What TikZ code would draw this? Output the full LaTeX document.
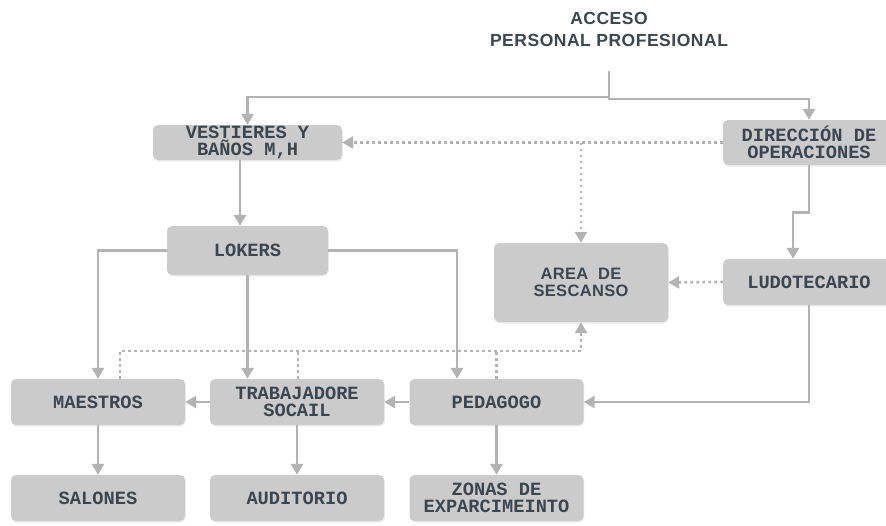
\documentclass[tikz,border=0pt]{standalone}
\usepackage{fontspec}
\setmonofont{Liberation Mono}
\newfontfamily\headfont[LetterSpace=3]{Liberation Sans}
\newfontfamily\areafont[LetterSpace=2]{Liberation Sans}
\usetikzlibrary{arrows.meta,shadows}

\definecolor{boxgray}{HTML}{CBCBCB}
\definecolor{linegray}{HTML}{B3B3B3}
\definecolor{textgray}{HTML}{3B4651}

\tikzset{
  box/.style={rectangle, rounded corners=5pt, fill=boxgray, text=textgray, align=center, inner sep=0pt,
    font=\ttfamily\bfseries\fontsize{18.7}{17}\selectfont,
    drop shadow={opacity=0.15, shadow xshift=0.8pt, shadow yshift=-1.5pt}},
  cell/.style={box, minimum width=174, minimum height=46},
  head/.style={text=textgray, align=center, font=\headfont\bfseries\fontsize{17.5}{22}\selectfont},
  flow/.style={draw=linegray, line width=2.8pt, -{Triangle[length=11pt,width=12pt]}},
  dotline/.style={draw=linegray, line width=2.6pt, dash pattern=on 2.4pt off 3.6pt},
  dots/.style={dotline, -{Triangle[length=11pt,width=12pt]}}
}

\begin{document}
\begin{tikzpicture}[x=1pt,y=-1pt]
        \useasboundingbox (0,0) rectangle (886,525);

        % title
        \node[head] (acceso) at (609,29) {ACCESO\\PERSONAL PROFESIONAL};
        \coordinate (acc) at (609,71);

        % upper boxes
        \node[box, minimum width=189, minimum height=35] (vest) at (247.5,142.5) {VESTIERES Y\\BAÑOS M,H};
        \node[box, minimum width=172, minimum height=45] (dir) at (809,142.5) {DIRECCIÓN DE\\OPERACIONES};
        \node[box, minimum width=161, minimum height=49] (lok) at (247.5,250.5) {LOKERS};
        \node[box, minimum width=174, minimum height=79, font=\areafont\bfseries\fontsize{16.5}{17}\selectfont] (area) at (581,282.5) {AREA\ \ DE\\SESCANSO};
        \node[box, minimum width=172, minimum height=46] (ludo) at (809,282) {LUDOTECARIO};

        % lower boxes
        \node[cell] (mae) at (98,402) {MAESTROS};
        \node[cell] (trab) at (297,402) {TRABAJADORE\\SOCAIL};
        \node[cell] (ped) at (496.5,402) {PEDAGOGO};
        \node[cell] (sal) at (98,498) {SALONES};
        \node[cell] (aud) at (297,498) {AUDITORIO};
        \node[cell] (zon) at (496.5,498) {ZONAS DE\\EXPARCIMEINTO};

        % solid lines
        \draw[flow] (acc) -- ++(0,26) -| (vest.north);
        \draw[flow] (acc) -- ++(0,28) -| (dir.north);
        \draw[flow] ([xshift=-7.5pt]vest.south) -- ([xshift=-7.5pt]lok.north);
        \draw[flow] (dir.south) -- ++(0,47) -| ([xshift=-16pt]ludo.north);
        \draw[flow] (lok.west) -| (mae.north);
        \draw[flow] (lok.south) -- (lok.south |- trab.north);
        \draw[flow] (lok.east) -| ([xshift=-39.5pt]ped.north);
        \draw[flow] (ludo.south) |- (ped.east);
        \draw[flow] (trab.west) -- (mae.east);
        \draw[flow] (ped.west) -- (trab.east);
        \draw[flow] (mae.south) -- (sal.north);
        \draw[flow] (trab.south) -- (aud.north);
        \draw[flow] (ped.south) -- (zon.north);

        % dotted lines
        \coordinate (rest) at (581,351);
        \draw[dots] (dir.west) -- (vest.east);
        \draw[dots] (area.north |- dir.west) -- (area.north);
        \draw[dots] (ludo.west) -- (area.east);
        \draw[dots] ([xshift=22pt]mae.north) |- (rest) -- (area.south);
        \draw[dotline] ([xshift=1pt]trab.north) -- ([xshift=1pt]trab.north |- rest);
        \draw[dotline] (ped.north) -- (ped.north |- rest);
\end{tikzpicture}
\end{document}
